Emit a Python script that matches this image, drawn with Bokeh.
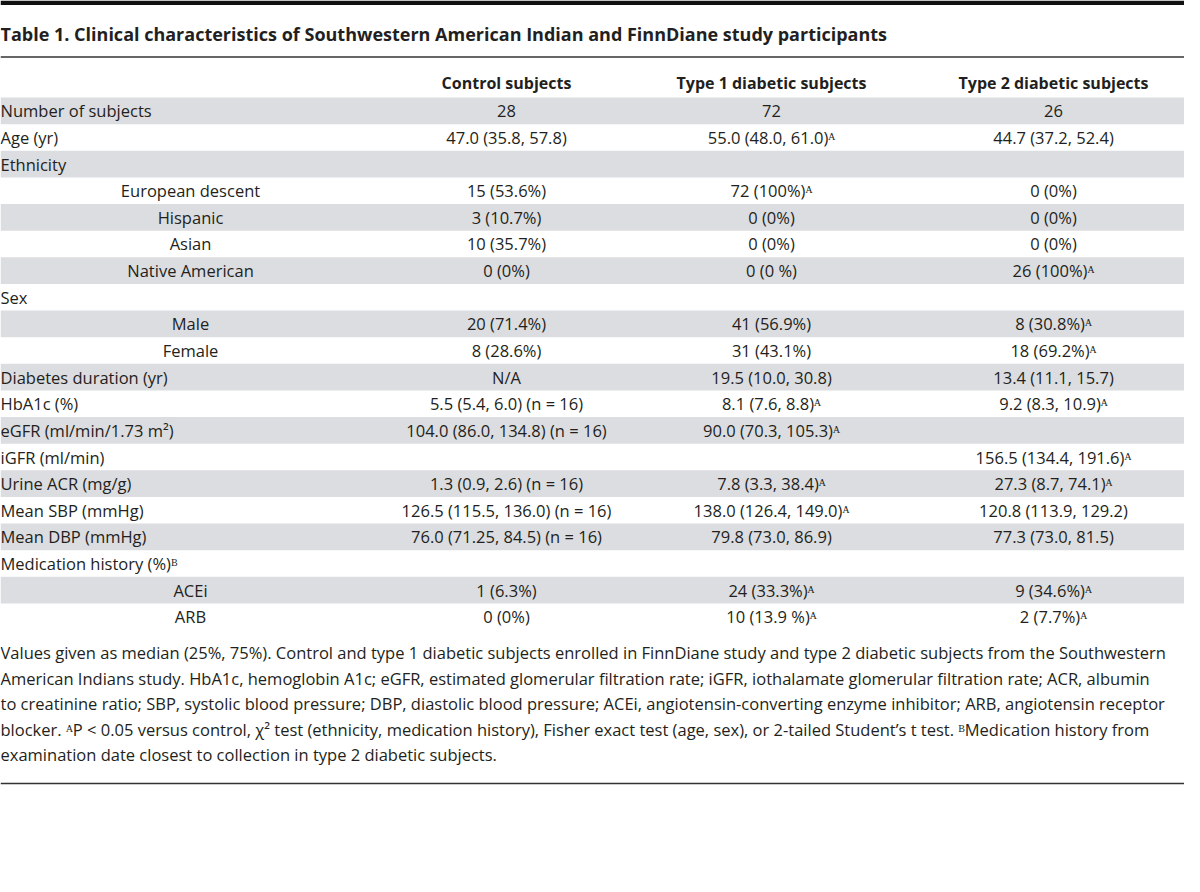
from bokeh.plotting import figure
from bokeh.models import ColumnDataSource, Range1d
from bokeh.core.properties import value
from bokeh.embed import file_html
from bokeh.resources import INLINE

# ---------------- data ----------------
title = "Table 1. Clinical characteristics of Southwestern American Indian and FinnDiane study participants"
headers = ["Control subjects", "Type 1 diabetic subjects", "Type 2 diabetic subjects"]

labels = ["Number of subjects", "Age (yr)", "Ethnicity", "European descent", "Hispanic", "Asian",
          "Native American", "Sex", "Male", "Female", "Diabetes duration (yr)", "HbA1c (%)",
          "eGFR (ml/min/1.73 m\u00b2)", "iGFR (ml/min)", "Urine ACR (mg/g)", "Mean SBP (mmHg)",
          "Mean DBP (mmHg)", "Medication history (%)\u1d2e", "ACEi", "ARB"]
indent = [0, 0, 0, 1, 1, 1, 1, 0, 1, 1, 0, 0, 0, 0, 0, 0, 0, 0, 1, 1]

control = ["28", "47.0 (35.8, 57.8)", "", "15 (53.6%)", "3 (10.7%)", "10 (35.7%)", "0 (0%)", "",
           "20 (71.4%)", "8 (28.6%)", "N/A", "5.5 (5.4, 6.0) (n = 16)",
           "104.0 (86.0, 134.8) (n = 16)", "", "1.3 (0.9, 2.6) (n = 16)",
           "126.5 (115.5, 136.0) (n = 16)", "76.0 (71.25, 84.5) (n = 16)", "", "1 (6.3%)", "0 (0%)"]
type1 = ["72", "55.0 (48.0, 61.0)\u1d2c", "", "72 (100%)\u1d2c", "0 (0%)", "0 (0%)", "0 (0 %)", "",
         "41 (56.9%)", "31 (43.1%)", "19.5 (10.0, 30.8)", "8.1 (7.6, 8.8)\u1d2c",
         "90.0 (70.3, 105.3)\u1d2c", "", "7.8 (3.3, 38.4)\u1d2c", "138.0 (126.4, 149.0)\u1d2c",
         "79.8 (73.0, 86.9)", "", "24 (33.3%)\u1d2c", "10 (13.9 %)\u1d2c"]
type2 = ["26", "44.7 (37.2, 52.4)", "", "0 (0%)", "0 (0%)", "0 (0%)", "26 (100%)\u1d2c", "",
         "8 (30.8%)\u1d2c", "18 (69.2%)\u1d2c", "13.4 (11.1, 15.7)", "9.2 (8.3, 10.9)\u1d2c", "",
         "156.5 (134.4, 191.6)\u1d2c", "27.3 (8.7, 74.1)\u1d2c", "120.8 (113.9, 129.2)",
         "77.3 (73.0, 81.5)", "", "9 (34.6%)\u1d2c", "2 (7.7%)\u1d2c"]

footnote = [
    "Values given as median (25%, 75%). Control and type 1 diabetic subjects enrolled in FinnDiane study and type 2 diabetic subjects from the Southwestern",
    "American Indians study. HbA1c, hemoglobin A1c; eGFR, estimated glomerular filtration rate; iGFR, iothalamate glomerular filtration rate; ACR, albumin",
    "to creatinine ratio; SBP, systolic blood pressure; DBP, diastolic blood pressure; ACEi, angiotensin-converting enzyme inhibitor; ARB, angiotensin receptor",
    "blocker. \u1d2cP < 0.05 versus control, \u03c7\u00b2 test (ethnicity, medication history), Fisher exact test (age, sex), or 2-tailed Student\u2019s t test. \u1d2eMedication history from",
    "examination date closest to collection in type 2 diabetic subjects.",
]

# ---------------- layout ----------------
W, H = 1184, 876
FONT = value("Open Sans")
TXT = "#231f20"
GRAY = "#dcdde0"
row0_top = 97.0
row_h = 26.63
col_x = [506, 771, 1053]
indent_x = 190
BODY = "16.5px"

p = figure(width=W, height=H, x_range=Range1d(0, W), y_range=Range1d(H, 0),
           x_axis_type=None, y_axis_type=None, output_backend="svg",
           toolbar_location=None, min_border=0, outline_line_color=None)
p.grid.visible = False
p.background_fill_color = "white"
p.border_fill_color = "white"

n = len(labels)
tops = [row0_top + i * row_h for i in range(n)]
ys = [t + row_h / 2 for t in tops]

# alternating gray bands
g_idx = [i for i in range(n) if i % 2 == 0]
p.quad(left=[0] * len(g_idx), right=[W] * len(g_idx),
       top=[tops[i] for i in g_idx], bottom=[tops[i] + row_h for i in g_idx],
       fill_color=GRAY, line_color=None)

# rules
p.quad(left=[0], right=[W], top=[0], bottom=[4.5], fill_color="#111111", line_color=None)
p.segment(x0=[0, 0], x1=[W, W], y0=[56.5, 783], y1=[56.5, 783], line_color="#333333", line_width=1.6)

# title
p.text(x=[0], y=[33], text=[title], text_font=FONT, text_font_style="bold",
       text_font_size="18px", text_color=TXT, text_align="left", text_baseline="middle")

# headers
p.text(x=col_x, y=[82] * 3, text=headers, text_font=FONT, text_font_style="bold",
       text_font_size="16px", text_color=TXT, text_align="center", text_baseline="middle")

# row labels
main_rows = [i for i in range(n) if indent[i] == 0]
sub_rows = [i for i in range(n) if indent[i] == 1]
p.text(x=[0] * len(main_rows), y=[ys[i] for i in main_rows], text=[labels[i] for i in main_rows],
       text_font=FONT, text_font_size=BODY, text_color=TXT, text_align="left", text_baseline="middle")
p.text(x=[indent_x] * len(sub_rows), y=[ys[i] for i in sub_rows], text=[labels[i] for i in sub_rows],
       text_font=FONT, text_font_size=BODY, text_color=TXT, text_align="center", text_baseline="middle")

# values
for cx, col in zip(col_x, [control, type1, type2]):
    src = ColumnDataSource(dict(x=[cx] * n, y=ys, t=col))
    p.text(x="x", y="y", text="t", source=src, text_font=FONT, text_font_size=BODY,
           text_color=TXT, text_align="center", text_baseline="middle")

# footnote
fy = [652 + k * 25.6 for k in range(len(footnote))]
p.text(x=[0] * len(footnote), y=fy, text=footnote, text_font=FONT, text_font_size=BODY,
       text_color=TXT, text_align="left", text_baseline="middle")

open("out.html", "w").write(file_html(p, INLINE))
